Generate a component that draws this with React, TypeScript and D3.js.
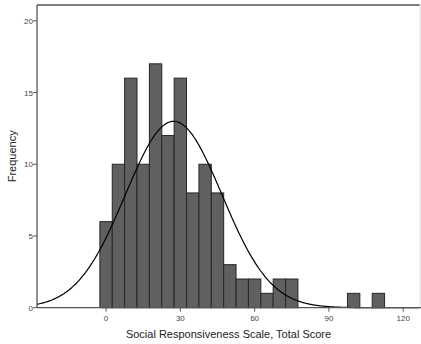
import React from "react";
import * as d3 from "d3";

const binCenters = [0, 5, 10, 15, 20, 25, 30, 35, 40, 45, 50, 55, 60, 65, 70, 75, 100, 110];
const binCounts = [6, 10, 16, 10, 17, 12, 16, 8, 10, 8, 3, 2, 2, 1, 2, 2, 1, 1];
const binWidth = 5;
const xTicks = [0, 30, 60, 90, 120];
const yTicks = [0, 5, 10, 15, 20];
const fitMean = 27.3;
const fitSd = 19.5;
const xTitle = "Social Responsiveness Scale, Total Score";
const yTitle = "Frequency";

export default function App() {
  const W = 421, H = 344;
  const left = 37, right = 420, top = 5, bottom = 307.7;
  const x = d3.scaleLinear().domain([-27.9, 126.8]).range([left, right]);
  const y = d3.scaleLinear().domain([0, 21.1]).range([bottom, top]);
  const N = d3.sum(binCounts);
  const pts = d3.range(-27.9, 126.81, 0.5).map((v) => {
    const z = (v - fitMean) / fitSd;
    return [v, (N * binWidth) / (fitSd * Math.sqrt(2 * Math.PI)) * Math.exp(-0.5 * z * z)] as [number, number];
  });
  const line = d3.line<[number, number]>().x((d) => x(d[0])).y((d) => y(d[1])).curve(d3.curveBasis);
  const font = "'Liberation Sans', Arial, sans-serif";
  return (
    <svg width={W} height={H} style={{ position: "absolute", left: 0, top: 0, background: "#fff" }}>
      <rect x={0} y={0} width={W} height={H} fill="#fff" />
      {binCenters.map((c, i) => (
        <rect
          key={i}
          x={x(c - binWidth / 2)}
          y={y(binCounts[i])}
          width={x(c + binWidth / 2) - x(c - binWidth / 2)}
          height={bottom - y(binCounts[i])}
          fill="#606060"
          stroke="#262626"
          strokeWidth={1}
        />
      ))}
      <path d={line(pts) || ""} fill="none" stroke="#000" strokeWidth={1.2} />
      <line x1={left} x2={right} y1={top} y2={top} stroke="#555" strokeWidth={1.3} />
      <line x1={right} x2={right} y1={top} y2={bottom} stroke="#ddd" strokeWidth={1} />
      <line x1={left} x2={left} y1={top} y2={bottom} stroke="#555" strokeWidth={1.3} />
      <line x1={left} x2={right + 1} y1={bottom} y2={bottom} stroke="#555" strokeWidth={1.3} />
      {yTicks.map((t) => (
        <g key={t}>
          <line x1={left - 4} x2={left} y1={y(t)} y2={y(t)} stroke="#555" />
          <text x={left - 4} y={y(t) + 3} textAnchor="end" fontSize={8} fontFamily={font} fill="#444">{t}</text>
        </g>
      ))}
      {xTicks.map((t) => (
        <g key={t}>
          <line x1={x(t)} x2={x(t)} y1={bottom} y2={bottom + 4} stroke="#555" />
          <text x={x(t)} y={bottom + 13} textAnchor="middle" fontSize={8} fontFamily={font} fill="#444">{t}</text>
        </g>
      ))}
      <text x={(left + right) / 2 - 0} y={338} textAnchor="middle" fontSize={11} fontFamily={font} fill="#222">{xTitle}</text>
      <text transform={`translate(16, ${(top + bottom) / 2}) rotate(-90)`} textAnchor="middle" fontSize={11} fontFamily={font} fill="#222">{yTitle}</text>
    </svg>
  );
}
